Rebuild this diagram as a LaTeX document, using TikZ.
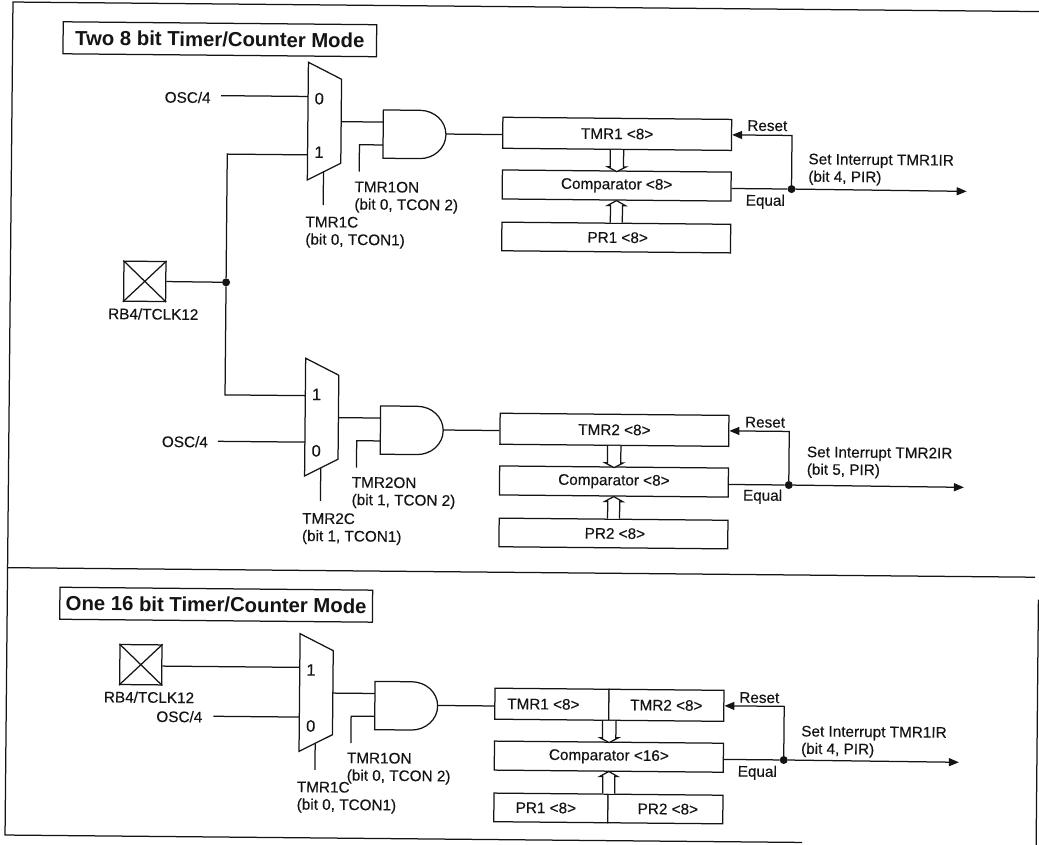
\documentclass[tikz,border=0pt]{standalone}
\usepackage{fontspec}
\setmainfont{Liberation Sans}
\newfontfamily\inkfont[FakeBold=0.35]{Liberation Sans}
\usetikzlibrary{arrows.meta}
\tikzset{
  wire/.style={draw=ink,line width=1.25pt,line join=miter},
  flow/.style={wire,-{Triangle[length=10pt,width=8pt]}},
  regbox/.style={draw=ink,line width=1.25pt,fill=white,inner sep=0pt,minimum height=31pt,text=ink,font=\labelfont},
  titlebox/.style={draw=ink,line width=1.25pt,fill=white,inner sep=0pt,minimum height=32pt,text=ink,font=\titlefont},
  lbl/.style={text=ink,inner sep=0pt,font=\labelfont,align=left},
  bitlbl/.style={text=ink,inner sep=0pt,font=\bitfont},
  junction/.style={circle,fill=ink,inner sep=0pt,minimum size=8pt},
  pinbox/.style={draw=ink,line width=1.25pt,inner sep=0pt,minimum width=42pt,minimum height=40pt},
  bus/.style={wire,fill=white}
}
\definecolor{ink}{HTML}{141414}
\newcommand{\labelfont}{\inkfont\fontsize{15.3}{17.4}\selectfont}
\newcommand{\bitfont}{\inkfont\fontsize{16.5}{18}\selectfont}
\newcommand{\titlefont}{\fontsize{20.3}{22}\selectfont\bfseries}
% gates: prefix, dx, dy, select-line end (local y)
\newcommand{\gateset}[4]{%
\begin{scope}[shift={(#2,#3)}]
  \coordinate (#1mo) at (342.4,118.5);
  \coordinate (#1ai) at (384.4,118.5);
  \coordinate (#1ae) at (384.4,141.4);
  \coordinate (#1ao) at (447.2,129.9);
  \coordinate (#1ee) at (360.8,168.4);
  \coordinate (#1si) at (325.1,168.9);
  \coordinate (#1se) at (325.1,#4);
  \draw[wire] (309,59.4) -- (342.3,76.1) -- (342.3,160.1) -- (309,177.1) -- cycle;
  \draw[wire] (384.4,106.4) -- (421,106.4)
     .. controls (435.5,106.4) and (447.2,117) .. (447.2,130.5)
     .. controls (447.2,144) and (435.5,154.7) .. (421,154.7) -- (384.4,154.7) -- cycle;
  \draw[wire] (#1mo) -- (#1ai);
  \draw[wire] (#1ee) |- (#1ae);
  \draw[wire] (#1si) -- (#1se);
\end{scope}}
% bus arrows and feedback around the registers
\newcommand{\regwires}[3]{% prefix, dx, dy
\begin{scope}[shift={(#2,#3)}]
  \node[junction] (#1dot) at (793.3,181.7) {};
  \coordinate (#1out) at (968.5,182.4);
  \draw[bus] (#1tb) ++(-6.7,0) -- ++(0,16.9) -- ++(-2.5,0) -- ++(9.2,4.8) -- ++(9.2,-4.8) -- ++(-2.5,0) -- ++(0,-16.9);
  \draw[bus] (#1pt) ++(-6,0) -- ++(0,-17) -- ++(-3,0) -- ++(9,-5) -- ++(9,5) -- ++(-3,0) -- ++(0,17);
  \draw[wire] (#1c.east |- #1dot) -- (#1dot);
  \draw[flow] (#1dot) |- (#1t.east);
  \draw[flow] (#1dot) -- (#1out);
\end{scope}}
\begin{document}
\begin{tikzpicture}[x=1pt,y=-1pt]
\useasboundingbox (0,0) rectangle (1039,844);
\clip (0,0) rectangle (1039,844);
\begin{scope}[rotate=-0.533,transform shape]
% frame
\coordinate (ftl) at (13,1.9);
\coordinate (ftr) at (1060,1.9);
\coordinate (fbl) at (12.8,835);
\coordinate (fbe) at (810,835);
\coordinate (fml) at (13,567.6);
\coordinate (fmr) at (1040.4,567.6);
\coordinate (frt) at (1044,590);
\coordinate (frb) at (1044,860);
\draw[wire] (ftr) -- (ftl) -- (fbl) -- (fbe);
\draw[wire] (fml) -- (fmr);
\draw[wire] (frt) -- (frb);
% titles
\node[titlebox,minimum width=313.5pt] (title1) at (220.2,37.2) {Two 8 bit Timer/Counter Mode};
\node[titlebox,minimum width=312.7pt] (title2) at (221.8,602.7) {One 16 bit Timer/Counter Mode};

% ---- pin and common clock
\node[pinbox] (pin1) at (147.4,280) {};
\draw[wire] (pin1.north west) -- (pin1.south east) (pin1.north east) -- (pin1.south west);
\node[lbl] (pin1l) at (156.2,312.6) {RB4/TCLK12};
\node[junction] (clk) at (228.7,280.2) {};
\draw[wire] (pin1.east) -- (clk);

% ---- module 1
\gateset{a}{0}{0}{202}
\coordinate (ai0) at (309,93.6);
\coordinate (ai1) at (309,152);
\coordinate (ao0) at (222,93.6);
\node[lbl] (aosc) at (188.6,95.6) {OSC/4};
\node[bitlbl] (a0) at (320.2,95.7) {0};
\node[bitlbl] (a1) at (320.4,149.3) {1};
\draw[wire] (ao0) -- (ai0);
\draw[wire] (clk) |- (ai1);
\node[lbl,anchor=west] (aon) at (356.1,193.7) {TMR1ON\\(bit 0, TCON 2)};
\node[lbl,anchor=west] (asel) at (307.4,229.2) {TMR1C\\(bit 0, TCON1)};
\node[regbox,minimum width=228.8pt] (at) at (618.4,128.1) {TMR1 <8>};
\node[regbox,minimum width=228.8pt,minimum height=29pt] (ac) at (618.4,179.8) {Comparator <8>};
\node[regbox,minimum width=228.8pt,minimum height=28.6pt] (ap) at (618.4,231.8) {\kern3pt PR1 <8>};
\coordinate (atb) at (at.south);
\coordinate (apt) at (ap.north);
\draw[wire] (aao) -- (aao -| at.west);
\regwires{a}{0}{0}
\node[lbl] (arst) at (768.5,118.6) {Reset};
\node[lbl] (aeq) at (767.2,194.6) {Equal};
\node[lbl,anchor=west] (aset) at (809.8,161.7) {Set Interrupt TMR1IR\\(bit 4, PIR)};

% ---- module 2
\gateset{b}{0}{296}{202}
\coordinate (bi1) at (309,392.8);
\coordinate (bi0) at (309,439.3);
\coordinate (bo0) at (222,439.3);
\node[lbl] (bosc) at (189,440) {OSC/4};
\node[bitlbl] (b1) at (320.2,391.5) {1};
\node[bitlbl] (b0) at (320.4,447.9) {0};
\draw[wire] (bo0) -- (bi0);
\draw[wire] (clk) |- (bi1);
\node[lbl,anchor=west] (bon) at (356.1,489.2) {TMR2ON\\(bit 1, TCON 2)};
\node[lbl,anchor=west] (bsel) at (306.8,525.7) {TMR2C\\(bit 1, TCON1)};
\node[regbox,minimum width=228.8pt] (bt) at (618.4,424.1) {TMR2 <8>};
\node[regbox,minimum width=228.8pt,minimum height=29pt] (bc) at (618.4,475.8) {Comparator <8>};
\node[regbox,minimum width=228.8pt,minimum height=28.6pt] (bp) at (618.4,527.8) {\kern3pt PR2 <8>};
\coordinate (btb) at (bt.south);
\coordinate (bpt) at (bp.north);
\draw[wire] (bao) -- (bao -| bt.west);
\regwires{b}{0}{296}
\node[lbl] (brst) at (769,415.2) {Reset};
\node[lbl] (beq) at (767.2,489.6) {Equal};
\node[lbl,anchor=west] (bset) at (811,454.6) {Set Interrupt TMR2IR\\(bit 5, PIR)};

% ---- module 3
\gateset{c}{-3}{571.5}{195.5}
\node[pinbox] (pin3) at (147,663.4) {};
\draw[wire] (pin3.north west) -- (pin3.south east) (pin3.north east) -- (pin3.south west);
\node[lbl] (pin3l) at (155.5,695.9) {RB4/TCLK12};
\coordinate (ci1) at (306,664.6);
\coordinate (ci0) at (306,714.3);
\coordinate (co0) at (220,714.3);
\node[lbl] (cosc) at (186,715) {OSC/4};
\node[bitlbl] (c1) at (317.2,667.1) {1};
\node[bitlbl] (c0) at (317.5,723.1) {0};
\draw[wire] (pin3.east |- ci1) -- (ci1);
\draw[wire] (co0) -- (ci0);
\node[lbl,anchor=west] (con) at (353.8,764.8) {TMR1ON\\(bit 0, TCON 2)};
\node[lbl,anchor=west] (csel) at (304,794.3) {TMR1C\\(bit 0, TCON1)};
\node[regbox,minimum width=114pt] (ct) at (558.4,699.1) {\kern-17pt TMR1 <8>};
\node[regbox,minimum width=115pt] (ct2) at (672.9,699.1) {TMR2 <8>};
\node[regbox,minimum width=229pt,minimum height=29pt] (cc) at (615.9,751) {Comparator <16>};
\node[regbox,minimum width=114pt,minimum height=28.6pt] (cp) at (558.4,802.8) {\kern-10pt PR1 <8>};
\node[regbox,minimum width=115pt,minimum height=28.6pt] (cp2) at (672.9,802.8) {\kern5pt PR2 <8>};
\coordinate (ctb) at (ct.south east);
\coordinate (cpt) at (cp.north east);
\draw[wire] (cao) -- (cao -| ct.west);
\begin{scope}[shift={(-2.5,571)}]
  \node[junction] (cdot) at (793.3,181.7) {};
  \coordinate (cout) at (968.5,182.4);
\end{scope}
\draw[bus] (ctb) ++(-6.7,0) -- ++(0,16.9) -- ++(-2.5,0) -- ++(9.2,4.8) -- ++(9.2,-4.8) -- ++(-2.5,0) -- ++(0,-16.9);
\draw[bus] (cpt) ++(-6,0) -- ++(0,-17) -- ++(-3,0) -- ++(9,-5) -- ++(9,5) -- ++(-3,0) -- ++(0,17);
\draw[wire] (cc.east |- cdot) -- (cdot);
\draw[flow] (cdot) |- (ct2.east);
\draw[flow] (cdot) -- (cout);
\node[lbl] (crst) at (765.8,690.6) {Reset};
\node[lbl] (ceq) at (764.5,765.7) {Equal};
\node[lbl,anchor=west] (cset) at (807.9,733.9) {Set Interrupt TMR1IR\\(bit 4, PIR)};
\end{scope}
\end{tikzpicture}
\end{document}
